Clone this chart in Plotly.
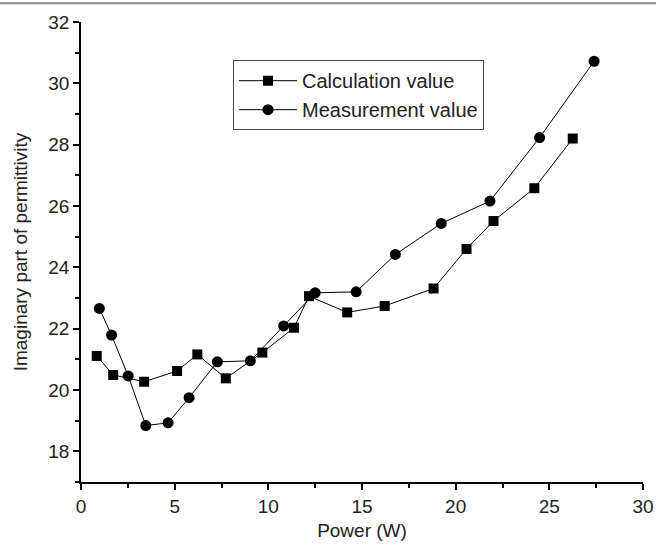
import plotly.graph_objects as go

calc_x = [0.84, 1.72, 3.37, 5.13, 6.21, 7.73, 9.68, 11.37, 12.17, 14.21, 16.21, 18.82, 20.58, 22.02, 24.2, 26.25]
calc_y = [21.11, 20.49, 20.27, 20.62, 21.16, 20.38, 21.22, 22.03, 23.06, 22.53, 22.74, 23.31, 24.6, 25.51, 26.58, 28.2]
meas_x = [0.98, 1.63, 2.52, 3.46, 4.65, 5.77, 7.28, 9.04, 10.82, 12.5, 14.69, 16.78, 19.23, 21.83, 24.48, 27.39]
meas_y = [22.66, 21.79, 20.46, 18.84, 18.93, 19.75, 20.92, 20.95, 22.09, 23.17, 23.2, 24.42, 25.43, 26.16, 28.23, 30.72]

x_ticks = [0, 5, 10, 15, 20, 25, 30]
y_ticks = [18, 20, 22, 24, 26, 28, 30, 32]

FONT = "Liberation Sans, Arial, sans-serif"

fig = go.Figure()
fig.add_trace(go.Scatter(
    x=calc_x, y=calc_y, mode="lines+markers", name="Calculation value",
    line=dict(color="black", width=1),
    marker=dict(symbol="square", size=10, color="black"),
))
fig.add_trace(go.Scatter(
    x=meas_x, y=meas_y, mode="lines+markers", name="Measurement value",
    line=dict(color="black", width=1),
    marker=dict(symbol="circle", size=11, color="black"),
))

fig.update_layout(
    width=656, height=547,
    margin=dict(l=81, r=13, t=22, b=65),
    paper_bgcolor="white", plot_bgcolor="white",
    font=dict(family=FONT, size=19, color="#222"),
    showlegend=True,
    legend=dict(
        x=0.2705, y=0.917, xanchor="left", yanchor="top",
        bgcolor="white", bordercolor="#444", borderwidth=1,
        font=dict(family=FONT, size=20, color="#222"),
        tracegroupgap=0, itemwidth=58,
    ),
    xaxis=dict(
        range=[0, 30], tickvals=x_ticks, ticktext=[str(v) for v in x_ticks],
        showline=True, linecolor="black", linewidth=1.5,
        ticks="outside", ticklen=6, tickwidth=1.5, tickcolor="black",
        showgrid=False, zeroline=False, automargin=False,
        minor=dict(dtick=2.5, ticks="outside", ticklen=4, tickcolor="black", tickwidth=1.5, showgrid=False),
        title=dict(text="Power (W)", font=dict(size=19), standoff=8),
        tickfont=dict(size=19),
    ),
    yaxis=dict(
        range=[17, 32], tickvals=y_ticks, ticktext=[str(v) for v in y_ticks],
        showline=True, linecolor="black", linewidth=1.5,
        ticks="outside", ticklen=6, tickwidth=1.5, tickcolor="black",
        showgrid=False, zeroline=False, automargin=False,
        minor=dict(dtick=1, ticks="outside", ticklen=4, tickcolor="black", tickwidth=1.5, showgrid=False),
        title=dict(text="Imaginary part of permittivity", font=dict(size=19), standoff=16),
        tickfont=dict(size=19),
    ),
    shapes=[dict(type="line", xref="paper", yref="paper",
                 x0=-0.2, x1=1.1, y0=1.041, y1=1.041,
                 line=dict(color="#888", width=2))],
)

fig.write_html("out.html", config={"displayModeBar": False},
               post_script="document.body.style.margin='0';")
